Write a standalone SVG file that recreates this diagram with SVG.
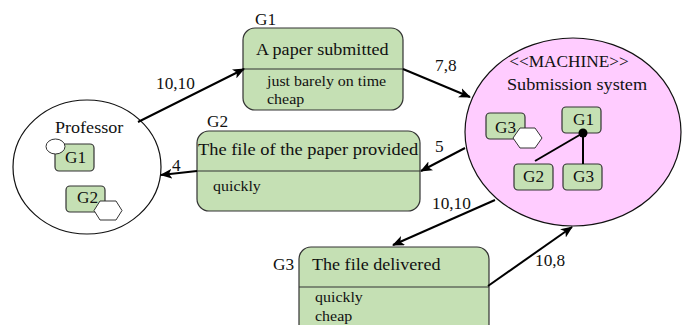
<svg xmlns="http://www.w3.org/2000/svg" width="684" height="325" viewBox="0 0 684 325" font-family="Liberation Serif">
<style>
.t{font-size:16px;fill:#111}
.s{font-size:14px;fill:#111}
.box{fill:#c5e0b4;stroke:#333;stroke-width:1.2}
.div{stroke:#333;stroke-width:1.2}
.ell{stroke:#111;stroke-width:1.2}
.hex{fill:#fff;stroke:#333;stroke-width:1}
.c{stroke:#000;stroke-width:2;fill:none;marker-end:url(#arr)}
.ln{stroke:#000;stroke-width:2;fill:none}
</style>
<defs>
<marker id="arr" viewBox="0 0 12 10" refX="11" refY="5" markerWidth="12" markerHeight="10" markerUnits="userSpaceOnUse" orient="auto">
<path d="M0,0 L12,5 L0,10 L3,5 z" fill="#000"/>
</marker>
</defs>
<rect width="684" height="325" fill="#fff"/>

<g id="professor" font-family="Liberation Serif">
<ellipse class="ell" cx="87" cy="167" rx="74" ry="67" fill="#fff"/>
<text class="t" transform="matrix(1.13 0 0 1 55 133)">Professor</text>
<rect class="box" x="55" y="144" width="39" height="27" rx="4"/>
<ellipse cx="55.5" cy="146.5" rx="9.5" ry="7.5" fill="#fff" stroke="#333" stroke-width="1"/>
<text class="t" transform="matrix(1.08 0 0 1 65 163)">G1</text>
<rect class="box" x="66" y="186" width="39" height="26" rx="4"/>
<text class="t" transform="matrix(1.08 0 0 1 77 203)">G2</text>
<polygon class="hex" points="94,210.5 100,201 116,201 122,210.5 116,220 100,220"/>
</g>

<g id="machine" font-family="Liberation Serif">
<ellipse class="ell" cx="573" cy="132" rx="108" ry="94" fill="#ffccff"/>
<text class="t" text-anchor="middle" transform="matrix(1.08 0 0 1 569 67)">&lt;&lt;MACHINE&gt;&gt;</text>
<text class="t" text-anchor="middle" transform="matrix(1.14 0 0 1 577 90)">Submission system</text>
<rect class="box" x="486" y="113" width="39" height="26" rx="4"/>
<text class="t" transform="matrix(1.08 0 0 1 495 133)">G3</text>
<polygon class="hex" points="513,138 520,128 535,128 542,138 535,148 520,148"/>
<rect class="box" x="562" y="107" width="39" height="26" rx="4"/>
<text class="t" transform="matrix(1.08 0 0 1 573 125)">G1</text>
<rect class="box" x="514" y="164" width="39" height="26" rx="4"/>
<text class="t" transform="matrix(1.08 0 0 1 523 182)">G2</text>
<rect class="box" x="563" y="164" width="39" height="26" rx="4"/>
<text class="t" transform="matrix(1.08 0 0 1 573 182)">G3</text>
<line class="ln" x1="583" y1="133" x2="535" y2="161"/>
<line class="ln" x1="583" y1="133" x2="583" y2="164"/>
<circle cx="583" cy="133" r="4.5" fill="#000"/>
</g>

<g id="g1" font-family="Liberation Serif">
<text class="t" transform="matrix(1.08 0 0 1 255 25)">G1</text>
<rect class="box" x="243" y="28" width="160" height="82" rx="12"/>
<line class="div" x1="243" y1="69" x2="403" y2="69"/>
<text class="t" transform="matrix(1.13 0 0 1 256 55)">A paper submitted</text>
<text class="s" transform="matrix(1.14 0 0 1 267 86)">just barely on time</text>
<text class="s" transform="matrix(1.14 0 0 1 267 104)">cheap</text>
</g>

<g id="g2" font-family="Liberation Serif">
<text class="t" transform="matrix(1.08 0 0 1 207 127)">G2</text>
<rect class="box" x="197" y="131" width="223" height="80" rx="12"/>
<line class="div" x1="197" y1="171" x2="420" y2="171"/>
<text class="t" transform="matrix(1.15 0 0 1 198 155)">The file of the paper provided</text>
<text class="s" transform="matrix(1.14 0 0 1 213 191)">quickly</text>
</g>

<g id="g3" font-family="Liberation Serif">
<text class="t" transform="matrix(1.08 0 0 1 273 270)">G3</text>
<rect class="box" x="299" y="247" width="190" height="92" rx="12"/>
<line class="div" x1="299" y1="287" x2="489" y2="287"/>
<text class="t" transform="matrix(1.13 0 0 1 312 270)">The file delivered</text>
<text class="s" transform="matrix(1.14 0 0 1 315 302)">quickly</text>
<text class="s" transform="matrix(1.14 0 0 1 315 321)">cheap</text>
</g>

<g id="connectors" font-family="Liberation Serif">
<line class="c" x1="138" y1="122" x2="244" y2="69"/>
<text class="t" transform="matrix(1.08 0 0 1 156 89)">10,10</text>
<line class="c" x1="403" y1="69" x2="470" y2="97"/>
<text class="t" transform="matrix(1.08 0 0 1 435 71)">7,8</text>
<line class="c" x1="465" y1="148" x2="421" y2="171"/>
<text class="t" transform="matrix(1.08 0 0 1 435 152)">5</text>
<line class="c" x1="197" y1="171" x2="161" y2="175"/>
<text class="t" transform="matrix(1.08 0 0 1 172 171)">4</text>
<line class="c" x1="495" y1="200" x2="393" y2="245"/>
<text class="t" transform="matrix(1.08 0 0 1 432 209)">10,10</text>
<line class="c" x1="488" y1="286" x2="572" y2="227"/>
<text class="t" transform="matrix(1.08 0 0 1 535 266)">10,8</text>
</g>
</svg>
